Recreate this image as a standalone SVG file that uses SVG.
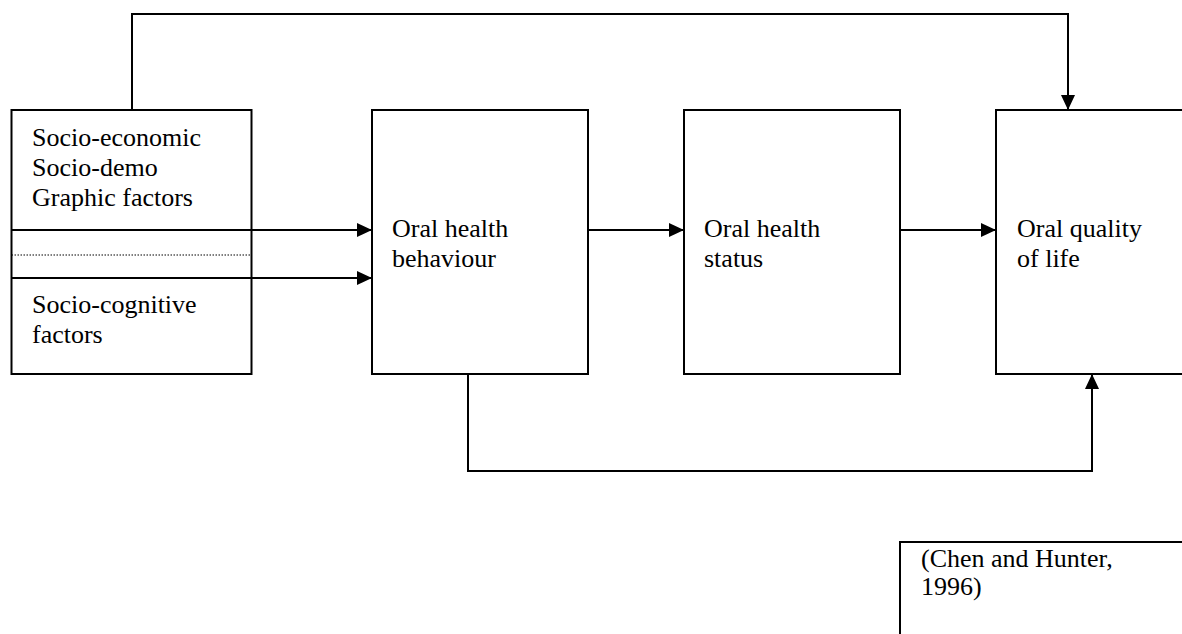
<svg xmlns="http://www.w3.org/2000/svg" width="1182" height="634" viewBox="0 0 1182 634">
<style>
.box{fill:#fff;stroke:#000;stroke-width:2}
.t{font-family:"Liberation Serif","Times New Roman",serif;font-size:26px;fill:#000}
.c{fill:none;stroke:#000;stroke-width:2}
</style>
<defs>
<marker id="ah" viewBox="0 0 15 14" refX="15" refY="7" markerWidth="15" markerHeight="14" markerUnits="userSpaceOnUse" orient="auto">
<path d="M0,0 L15,7 L0,14 Z" fill="#000"/>
</marker>
</defs>
<rect width="1182" height="634" fill="#fff"/>
<g id="n-factors">
<rect class="box" x="11.5" y="110" width="240" height="264"/>
<line x1="11.5" y1="255" x2="251.5" y2="255" stroke="#000" stroke-width="1" stroke-dasharray="1.5,1.5"/>
<text class="t" x="32" y="146">Socio-economic</text>
<text class="t" x="32" y="176">Socio-demo</text>
<text class="t" x="32" y="206">Graphic factors</text>
<text class="t" x="32" y="313">Socio-cognitive</text>
<text class="t" x="32" y="343">factors</text>
</g>
<g id="n-behaviour">
<rect class="box" x="372" y="110" width="216" height="264"/>
<text class="t" x="392" y="237">Oral health</text>
<text class="t" x="392" y="267">behaviour</text>
</g>
<g id="n-status">
<rect class="box" x="684" y="110" width="216" height="264"/>
<text class="t" x="704" y="237">Oral health</text>
<text class="t" x="704" y="267">status</text>
</g>
<g id="n-qol">
<rect class="box" x="996" y="110" width="200" height="264"/>
<text class="t" x="1017" y="237">Oral quality</text>
<text class="t" x="1017" y="267">of life</text>
</g>
<g id="n-cite">
<rect class="box" x="900" y="542" width="300" height="110"/>
<text class="t" x="921" y="567">(Chen and Hunter,</text>
<text class="t" x="921" y="595">1996)</text>
</g>
<g id="connectors">
<path class="c" d="M11.5,230 H372" marker-end="url(#ah)"/>
<path class="c" d="M11.5,278 H372" marker-end="url(#ah)"/>
<path class="c" d="M588,230 H684" marker-end="url(#ah)"/>
<path class="c" d="M900,230 H996" marker-end="url(#ah)"/>
<path class="c" d="M132,110 V14 H1068 V110" marker-end="url(#ah)"/>
<path class="c" d="M468,374 V471 H1092 V374" marker-end="url(#ah)"/>
</g>
</svg>
